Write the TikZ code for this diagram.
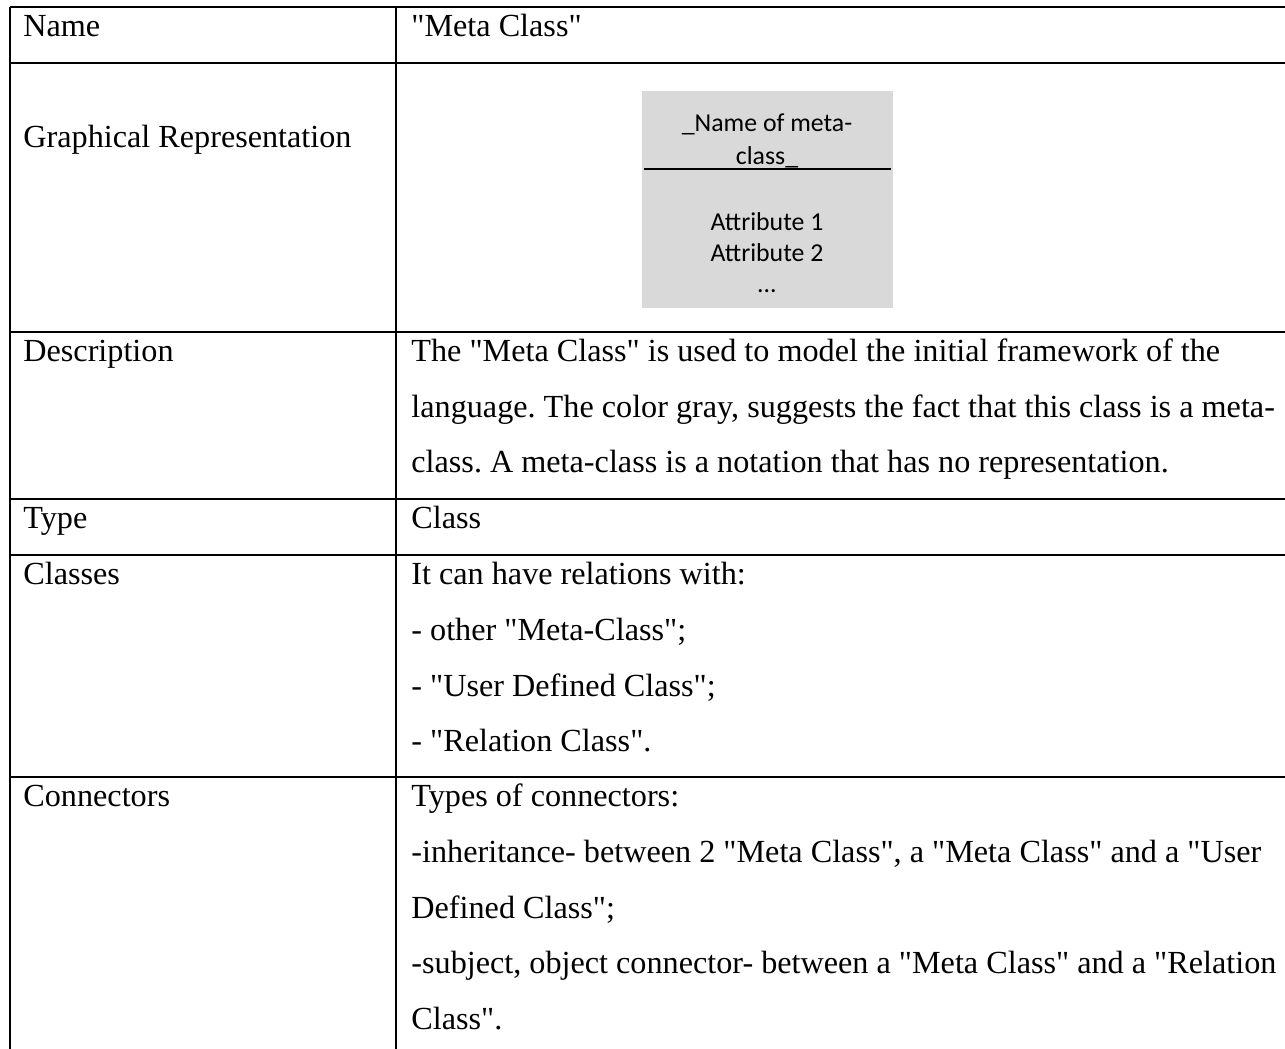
\documentclass[tikz,border=0pt]{standalone}
\usepackage{fontspec}
\setmainfont{Liberation Serif}[Ligatures=TeXOff]
\newfontfamily\boxfont{Carlito}[Ligatures=TeXOff]
\frenchspacing
\begin{document}
\begin{tikzpicture}[x=0.5pt,y=-0.5pt,
  rule/.style={line width=1pt,black},
  cell/.style={anchor=base west,inner sep=0pt,
    font=\fontsize{16.1}{19}\selectfont},
  boxtext/.style={anchor=base,inner sep=0pt,
    font=\boxfont\fontsize{12.9}{15}\selectfont},
  metabox/.style={fill=black!15,draw=none}]
% page frame
\useasboundingbox (0,0) rectangle (1285,1049);
% table rules
\coordinate (tl) at (10,7);
\coordinate (bl) at (10,1049);
\coordinate (tm) at (396,7);
\coordinate (bm) at (396,1049);
\draw[rule] (tl) -- (bl);
\draw[rule] (tm) -- (bm);
\foreach \yy/\nm in {7/r0,63/r1,332/r2,499/r3,555/r4,777/r5}{
  \coordinate (\nm a) at (10,\yy);
  \coordinate (\nm b) at (1285,\yy);
  \draw[rule] (\nm a) -- (\nm b);
}
% left column labels
\node[cell] (kname)  at (23,36)   {Name};
\node[cell] (kgraph) at (23,147)  {Graphical Representation};
\node[cell] (kdesc)  at (23,361)  {Description};
\node[cell] (ktype)  at (23,528)  {Type};
\node[cell] (kclass) at (23,584)  {Classes};
\node[cell] (kconn)  at (23,806)  {Connectors};
% right column values
\node[cell] (vname) at (411,36) {"Meta Class"};
\node[cell] (d1) at (411,361) {The "Meta Class" is used to model the initial framework of the};
\node[cell] (d2) at (411,417) {language. The color gray, suggests the fact that this class is a meta-};
\node[cell] (d3) at (411,472) {class. A meta-class is a notation that has no representation.};
\node[cell] (vtype) at (411,528) {Class};
\node[cell] (c1) at (411,584) {It can have relations with:};
\node[cell] (c2) at (411,640) {- other "Meta-Class";};
\node[cell] (c3) at (411,696) {- "User Defined Class";};
\node[cell] (c4) at (411,751) {- "Relation Class".};
\node[cell] (n1) at (411,806) {Types of connectors:};
\node[cell] (n2) at (411,862) {-inheritance- between 2 "Meta Class", a "Meta Class" and a "User};
\node[cell] (n3) at (411,918) {Defined Class";};
\node[cell] (n4) at (411,973) {-subject, object connector- between a "Meta Class" and a "Relation};
\node[cell] (n5) at (411,1029) {Class".};
% meta-class symbol
\node[metabox,minimum width=251*0.5pt,minimum height=217*0.5pt,inner sep=0pt,anchor=north west] (mc) at (642,91) {};
\coordinate (sepl) at (644,169);
\coordinate (sepr) at (891,169);
\draw[line width=0.8pt] (sepl) -- (sepr);
\node[boxtext] (mname) at (767,131) {\_Name of meta-};
\node[boxtext] (mclass) at (767,164) {class\_};
\node[boxtext] (ma1) at (767,230) {Attribute 1};
\node[boxtext] (ma2) at (767,261) {Attribute 2};
\node[boxtext] (mdots) at (767,292) {...};
\end{tikzpicture}
\end{document}
